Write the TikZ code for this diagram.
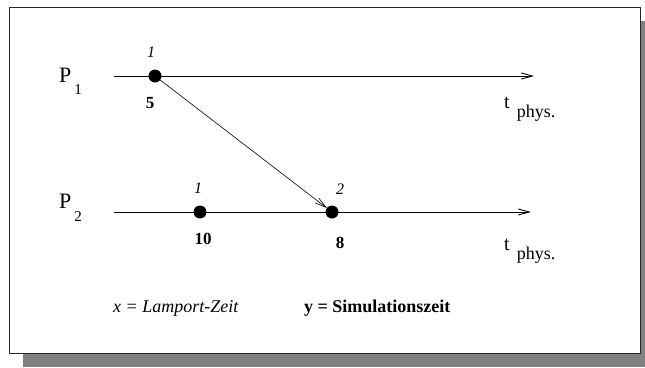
\documentclass[tikz,border=0pt]{standalone}
\usepackage{fontspec}
\setmainfont{Liberation Serif}
\usetikzlibrary{positioning, arrows.meta}

\tikzset{
  event/.style={circle,fill=black,inner sep=0pt,minimum size=13pt},
  lamport/.style={font=\fontsize{16}{18}\selectfont\itshape,inner sep=0pt},
  simzeit/.style={font=\fontsize{17}{20}\selectfont\bfseries,inner sep=0pt},
  proc/.style={anchor=base west,inner sep=0pt,font=\fontsize{22}{26}\selectfont},
  tphys/.style={anchor=base west,inner sep=0pt,font=\fontsize{20}{24}\selectfont},
}

\begin{document}
\begin{tikzpicture}[x=1pt,y=-1pt,>={Straight Barb[length=11pt,width=6pt]}]
    \useasboundingbox (0,0) rectangle (645,367);
    % frame with shadow
    \fill[black!50] (23,21) rectangle (645,367);
    \filldraw[fill=white,draw=black!85,line width=0.9pt] (9,7) rectangle (640,353);

    % processes
    \node[proc] (p1) at (59,82) {P\raisebox{-12.5pt}{\fontsize{15}{18}\selectfont\hspace{3pt}1}};
    \node[proc] (p2) at (59,208) {P\raisebox{-13.5pt}{\fontsize{15}{18}\selectfont\hspace{3pt}2}};

    \coordinate (a1) at (114,76);
    \coordinate (b1) at (534,76);
    \coordinate (a2) at (114,212);
    \coordinate (b2) at (531,212);

    \node[event] (e11) at (155,76) {};
    \node[event] (e21) at (200,212) {};
    \node[event] (e22) at (332,212) {};

    \draw[->,line width=0.9pt] (a1) -- (b1);
    \draw[->,line width=0.9pt] (a2) -- (b2);
    \draw[->,line width=0.6pt] (e11) -- (e22);

    % Lamport-Zeit
    \node[lamport] (l11) at (151,52) {1};
    \node[lamport] (l21) at (198,188) {1};
    \node[lamport] (l22) at (340,189) {2};

    % Simulationszeit
    \node[simzeit] (s11) at (150,103) {5};
    \node[simzeit] (s21) at (203,239) {10};
    \node[simzeit] (s22) at (340,243) {8};

    \node[tphys] (t1) at (504,108) {t\hspace{7pt}\raisebox{-9pt}{\fontsize{18}{20}\selectfont phys.}};
    \node[tphys] (t2) at (504,250) {t\hspace{7pt}\raisebox{-9pt}{\fontsize{18}{20}\selectfont phys.}};

    % legend
    \node[lamport,anchor=base west,font=\fontsize{18}{20}\selectfont\itshape] (legx) at (113,312) {x = Lamport-Zeit};
    \node[simzeit,anchor=base west,font=\fontsize{18}{20}\selectfont\bfseries] (legy) at (304,312) {y = Simulationszeit};
\end{tikzpicture}
\end{document}
